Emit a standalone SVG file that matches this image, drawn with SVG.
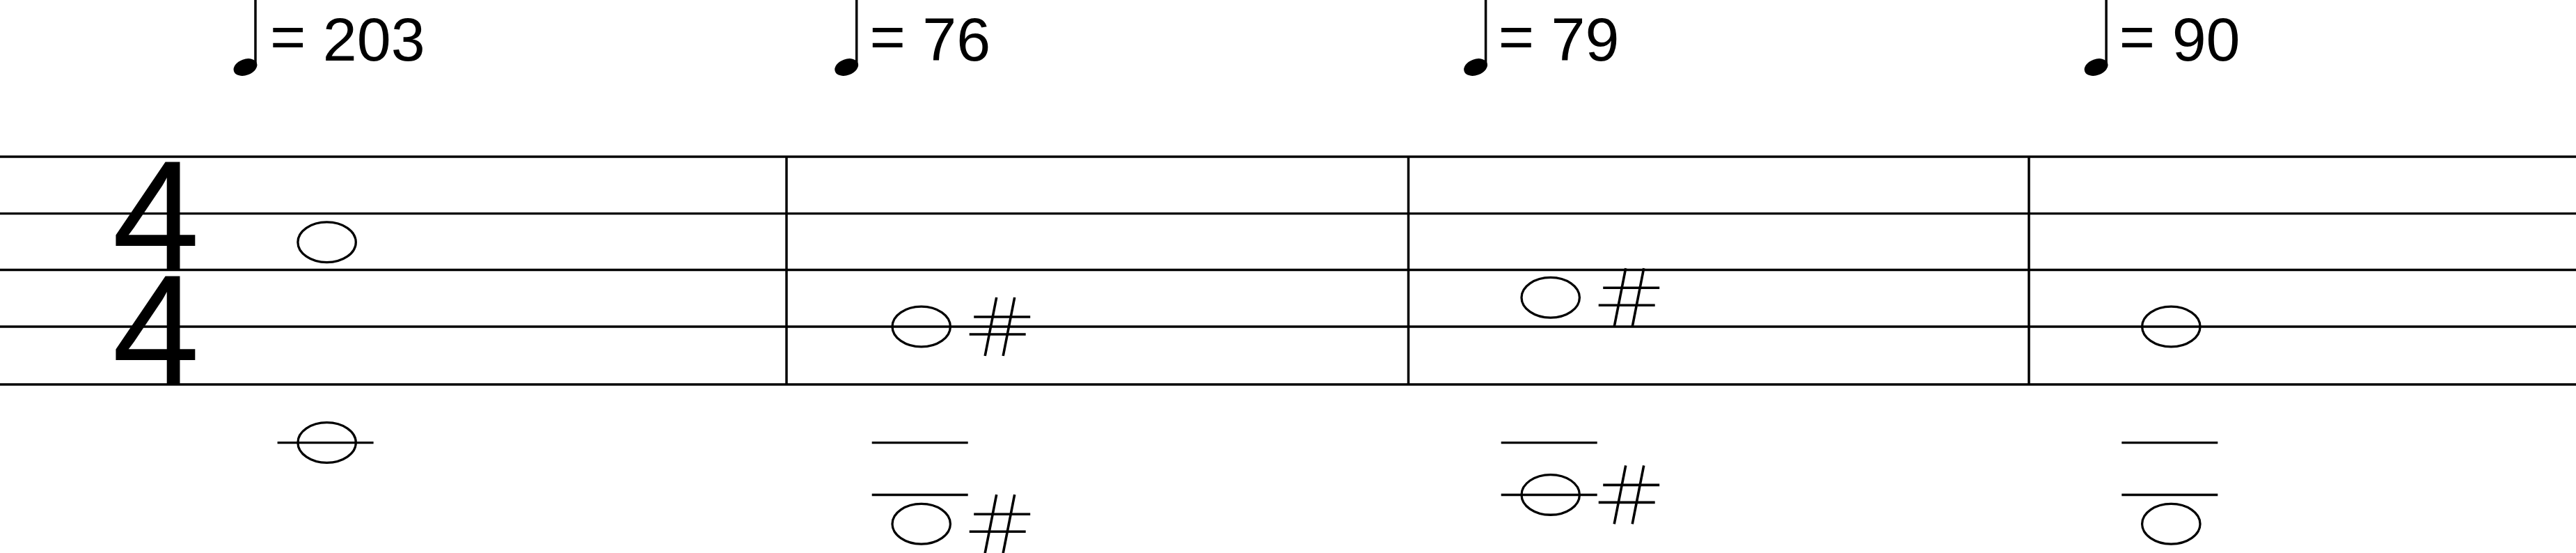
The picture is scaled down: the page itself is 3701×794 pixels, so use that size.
<svg xmlns="http://www.w3.org/2000/svg" width="3701" height="794" viewBox="0 0 3701 794">
<style>
.ln{stroke:#000;stroke-width:3.3;fill:none}
.bar{stroke:#000;stroke-width:3.5}
.head{fill:none;stroke:#000;stroke-width:3.3}
.sh{stroke:#000;stroke-width:3.6;stroke-linecap:butt}
.tempo{font-family:"Liberation Sans",Arial,sans-serif;font-size:88px;fill:#000}
.ts{font-family:"Liberation Sans",Arial,sans-serif;font-size:226px;fill:#000;text-anchor:middle}
</style>
<defs>
<ellipse id="whole" cx="0" cy="0" rx="41.7" ry="28.85" class="head"/>
<g id="sharp" class="sh">
<line x1="75.5" y1="-14" x2="156.5" y2="-14"/>
<line x1="69" y1="11" x2="150" y2="11"/>
<line x1="108" y1="-42" x2="91.5" y2="42"/>
<line x1="134" y1="-42" x2="117.5" y2="42"/>
</g>
<line id="ledger" class="ln" x1="-71" y1="0" x2="67" y2="0"/>
<g id="quarter">
<line x1="0" y1="-100" x2="0" y2="-2" stroke="#000" stroke-width="3.5"/>
<ellipse cx="-14.5" cy="0" rx="17.5" ry="11.5" transform="rotate(-20 -14.5 0)" fill="#000"/>
</g>
</defs>
<rect width="3701" height="794" fill="#fff"/>
<g id="staff" class="ln">
<line x1="0" y1="225" x2="3701" y2="225"/>
<line x1="0" y1="306.6" x2="3701" y2="306.6"/>
<line x1="0" y1="387.5" x2="3701" y2="387.5"/>
<line x1="0" y1="469" x2="3701" y2="469"/>
<line x1="0" y1="552" x2="3701" y2="552"/>
</g>
<g id="barlines" class="bar">
<line x1="1130" y1="225" x2="1130" y2="552"/>
<line x1="2023.5" y1="225" x2="2023.5" y2="552"/>
<line x1="2915" y1="225" x2="2915" y2="552"/>
</g>
<g id="time-signature">
<text class="ts" x="224" y="387.5">4</text>
<text class="ts" x="224" y="552">4</text>
</g>
<g id="tempo1">
<use href="#quarter" x="367" y="96.5"/>
<text class="tempo" x="388" y="87"><tspan dy="-4">=</tspan><tspan dy="4"> 203</tspan></text>
</g>
<g id="tempo2">
<use href="#quarter" x="1230.7" y="96.5"/>
<text class="tempo" x="1249.5" y="87"><tspan dy="-4">=</tspan><tspan dy="4"> 76</tspan></text>
</g>
<g id="tempo3">
<use href="#quarter" x="2134.6" y="96.5"/>
<text class="tempo" x="2152.7" y="87"><tspan dy="-4">=</tspan><tspan dy="4"> 79</tspan></text>
</g>
<g id="tempo4">
<use href="#quarter" x="3026.1" y="96.5"/>
<text class="tempo" x="3044.8" y="87"><tspan dy="-4">=</tspan><tspan dy="4"> 90</tspan></text>
</g>
<g id="m1-upper"><use href="#whole" x="469.6" y="347.8"/></g>
<g id="m1-lower">
<use href="#ledger" x="469.6" y="635.7"/>
<use href="#whole" x="469.6" y="635.5"/>
</g>
<g id="m2-upper">
<use href="#whole" x="1323.7" y="469"/>
<use href="#sharp" x="1323.7" y="469"/>
</g>
<g id="m2-lower">
<use href="#ledger" x="1323.7" y="635.7"/>
<use href="#ledger" x="1323.7" y="710.5"/>
<use href="#whole" x="1323.7" y="752.2"/>
<use href="#sharp" x="1323.7" y="752.2"/>
</g>
<g id="m3-upper">
<use href="#whole" x="2227.7" y="427.2"/>
<use href="#sharp" x="2227.7" y="427.2"/>
</g>
<g id="m3-lower">
<use href="#ledger" x="2227.7" y="635.7"/>
<use href="#ledger" x="2227.7" y="710.5"/>
<use href="#whole" x="2227.7" y="710.4"/>
<use href="#sharp" x="2227.7" y="710.4"/>
</g>
<g id="m4-upper"><use href="#whole" x="3119.3" y="469"/></g>
<g id="m4-lower">
<use href="#ledger" x="3119.3" y="635.7"/>
<use href="#ledger" x="3119.3" y="710.5"/>
<use href="#whole" x="3119.3" y="752.2"/>
</g>
</svg>
